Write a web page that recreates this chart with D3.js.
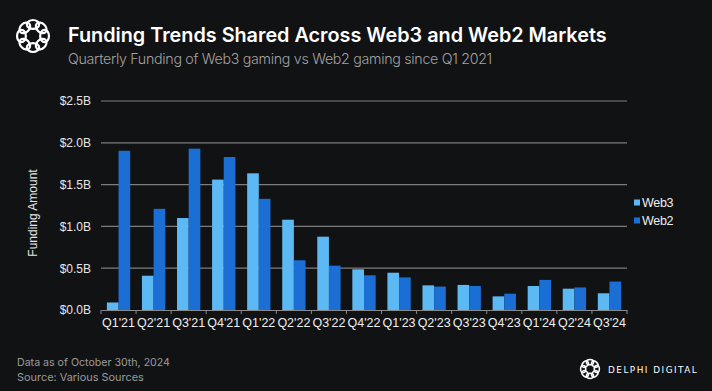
<!DOCTYPE html>
<html>
<head>
<meta charset="utf-8">
<script src="https://cdn.jsdelivr.net/npm/d3@7"></script>
<style>
  body { margin: 0; background: #111214; }
  svg { display: block; }
</style>
</head>
<body>
<svg id="chart"></svg>
<script>
// quarters on the x axis
const quarters = ["Q1'21","Q2'21","Q3'21","Q4'21","Q1'22","Q2'22","Q3'22","Q4'22",
                  "Q1'23","Q2'23","Q3'23","Q4'23","Q1'24","Q2'24","Q3'24"]
// funding in $B
const web3 = [0.09, 0.41, 1.10, 1.56, 1.635, 1.08, 0.877, 0.487, 0.446, 0.295, 0.30, 0.163, 0.287, 0.255, 0.20]
const web2 = [1.905, 1.21, 1.93, 1.83, 1.33, 0.595, 0.53, 0.415, 0.39, 0.28, 0.287, 0.195, 0.36, 0.27, 0.34]
const yTicks = [0, 0.5, 1.0, 1.5, 2.0, 2.5]
const seriesNames = ["Web3", "Web2"]
const colors = {Web3: "#5cb9f4", Web2: "#1b6fd4"}

const width = 712, height = 391
const svg = d3.select("#chart").attr("width", width).attr("height", height)

svg.append("rect").attr("width", width).attr("height", height).attr("fill", "#111214")

const plot = {left: 101, right: 627, top: 101, bottom: 310}

const x = d3.scaleBand()
  .domain(quarters)
  .range([plot.left, plot.right])
  .paddingInner(0.335)
  .paddingOuter(0.1675)

const xSub = d3.scaleBand()
  .domain(seriesNames)
  .range([0, x.bandwidth()])

const y = d3.scaleLinear()
  .domain([0, 2.5])
  .range([plot.bottom, plot.top])

// gridlines
svg.append("g")
  .selectAll("line")
  .data(yTicks.filter(d => d > 0))
  .enter()
  .append("line")
  .attr("x1", plot.left)
  .attr("x2", plot.right)
  .attr("y1", d => y(d))
  .attr("y2", d => y(d))
  .attr("stroke", "#7d7d7d")
  .attr("stroke-width", 1.2)

// y axis labels
const yAxis = svg.append("g")
  .attr("transform", "translate(" + plot.left + ",0)")
  .call(d3.axisLeft(y).tickValues(yTicks).tickSize(0).tickPadding(10)
    .tickFormat(d => "$" + d3.format(".1f")(d) + "B"))
yAxis.select(".domain").remove()
yAxis.selectAll("text")
  .attr("fill", "#e6e6e6")
  .style("font-family", "'Liberation Sans', Arial, sans-serif")
  .style("font-size", "12px")

// bars
const groups = svg.append("g")
  .selectAll("g")
  .data(quarters.map((q, i) => ({q: q, values: [web3[i], web2[i]]})))
  .enter()
  .append("g")
  .attr("transform", d => "translate(" + x(d.q) + ",0)")

groups.selectAll("rect")
  .data(d => d.values.map((v, i) => ({key: seriesNames[i], value: v})))
  .enter()
  .append("rect")
  .attr("x", d => xSub(d.key))
  .attr("width", xSub.bandwidth())
  .attr("y", d => y(d.value))
  .attr("height", d => y(0) - y(d.value))
  .attr("fill", d => colors[d.key])

// x axis
const xAxis = svg.append("g")
  .attr("transform", "translate(0," + plot.bottom + ")")
  .call(d3.axisBottom(x).tickSize(0).tickPadding(8))
xAxis.select(".domain").attr("stroke", "#8a8a8a").attr("stroke-width", 1.2)
xAxis.selectAll("text")
  .attr("fill", "#eeeeee")
  .style("font-family", "'Liberation Sans', Arial, sans-serif")
  .style("font-size", "12.5px")

// small tick marks between the categories
const step = x.step()
svg.append("g")
  .selectAll("line")
  .data(d3.range(quarters.length + 1))
  .enter()
  .append("line")
  .attr("x1", i => plot.left + i * step)
  .attr("x2", i => plot.left + i * step)
  .attr("y1", plot.bottom)
  .attr("y2", plot.bottom + 4)
  .attr("stroke", "#8a8a8a")

// y axis title
svg.append("text")
  .attr("transform", "translate(37,213)rotate(-90)")
  .attr("text-anchor", "middle")
  .attr("fill", "#e6e6e6")
  .style("font-family", "'Liberation Sans', Arial, sans-serif")
  .style("font-size", "12px")
  .text("Funding Amount")

// legend
const legend = svg.append("g")
  .selectAll("g")
  .data(seriesNames)
  .enter()
  .append("g")
  .attr("transform", (d, i) => "translate(634," + (203 + i * 18) + ")")
legend.append("rect")
  .attr("x", 0).attr("y", -3.5)
  .attr("width", 6).attr("height", 6)
  .attr("fill", d => colors[d])
legend.append("text")
  .attr("x", 8).attr("y", 4)
  .attr("fill", "#eeeeee")
  .style("font-family", "'Liberation Sans', Arial, sans-serif")
  .style("font-size", "12.5px")
  .style("letter-spacing", "-0.3px")
  .text(d => d)

// fit a text to a given width by changing its font size
function fitText(sel, target) {
  const w = sel.node().getComputedTextLength()
  const fs = parseFloat(sel.style("font-size"))
  sel.style("font-size", (fs * target / w) + "px")
}

// title and subtitle
const title = svg.append("text")
  .attr("x", 68).attr("y", 42)
  .attr("fill", "#ffffff")
  .style("font-family", "Inter, 'Noto Sans', sans-serif")
  .style("font-weight", 600)
  .style("font-size", "21px")
  .text("Funding Trends Shared Across Web3 and Web2 Markets")
fitText(title, 539)

const subtitle = svg.append("text")
  .attr("x", 68).attr("y", 64)
  .attr("fill", "#a3a3a3")
  .style("font-family", "Inter, 'Noto Sans', sans-serif")
  .style("font-weight", 300)
  .style("font-size", "15px")
  .style("letter-spacing", "-0.3px")
  .text("Quarterly Funding of Web3 gaming vs Web2 gaming since Q1 2021")
fitText(subtitle, 425)

// footer
const foot = svg.append("g")
  .attr("fill", "#9b9b9b")
  .style("font-family", "Inter, 'Noto Sans', sans-serif")
  .style("font-size", "11.5px")
const f1 = foot.append("text").attr("x", 17).attr("y", 366).text("Data as of October 30th, 2024")
fitText(f1, 153)
const f2 = foot.append("text").attr("x", 17).attr("y", 381).text("Source: Various Sources")
fitText(f2, 127)

// logo: ring of interlocking loops
function drawLogo(cx, cy, r, sw) {
  const g = svg.append("g").attr("transform", "translate(" + cx + "," + cy + ")")
  g.selectAll("ellipse")
    .data(d3.range(8))
    .enter()
    .append("ellipse")
    .attr("transform", i => "rotate(" + (i * 45) + ")translate(0," + (-r * 0.68) + ")")
    .attr("rx", r * 0.36)
    .attr("ry", r * 0.26)
    .attr("fill", "none")
    .attr("stroke", "#ffffff")
    .attr("stroke-width", sw)
}
drawLogo(33, 36, 17, 2.2)
drawLogo(590, 369, 10, 1.5)

const brand = svg.append("text")
  .attr("x", 608).attr("y", 373)
  .attr("fill", "#ffffff")
  .style("font-family", "'DejaVu Sans', sans-serif")
  .style("font-size", "10px")
  .style("letter-spacing", "1.5px")
  .text("DELPHI DIGITAL")
fitText(brand, 88)
</script>
</body>
</html>
